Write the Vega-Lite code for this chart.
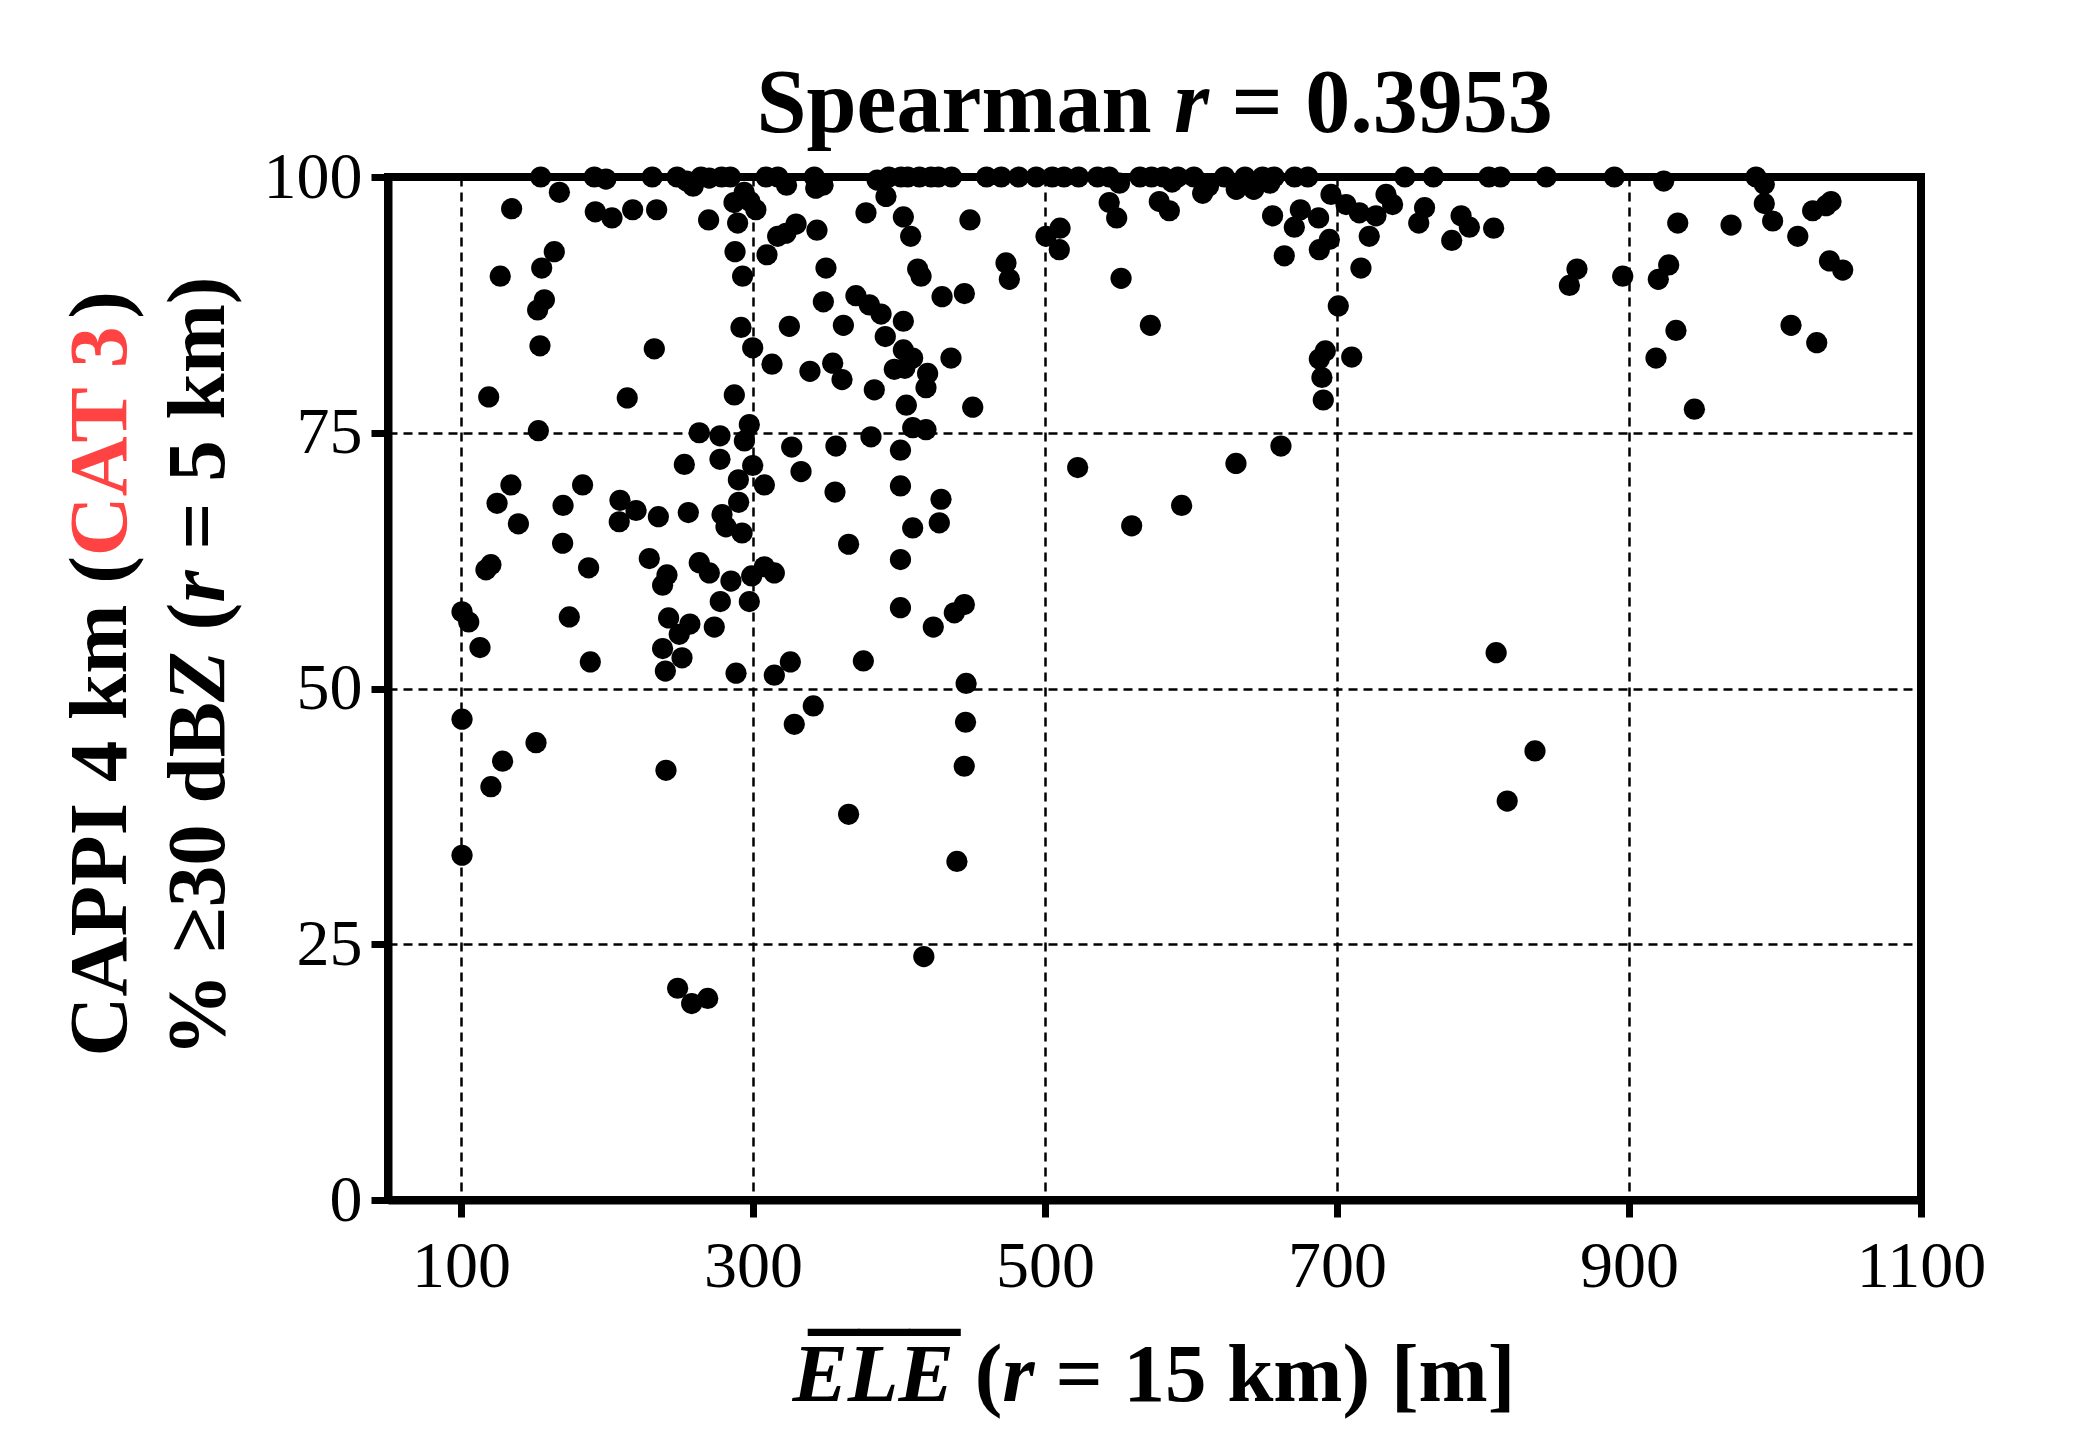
{
  "$schema": "https://vega.github.io/schema/vega-lite/v6.json",
  "width": 1533,
  "height": 1023,
  "autosize": {"type": "none"},
  "padding": {"left": 388, "top": 177, "right": 157, "bottom": 250},
  "background": "white",
  "config": {
    "view": {"stroke": "black", "strokeWidth": 8},
    "axis": {
      "titleFont": "Liberation Serif", "titleFontWeight": "bold", "titleColor": "black", "titleLimit": 3000,
      "titleAlign": "left", "titleBaseline": "alphabetic", "titleFontSize": 83, "titlePadding": 0,
      "labelFont": "Liberation Serif", "labelColor": "black", "labelFontSize": 66, "labelFlush": false,
      "labelOverlap": false, "labelBound": false,
      "domainColor": "black", "domainWidth": 8, "tickColor": "black", "tickWidth": 7, "tickSize": 17,
      "gridColor": "black", "gridWidth": 2.5, "gridDash": [9, 6]
    }
  },
  "data": {"values": [
    {"ele":154.6,"pct":100},{"ele":191.3,"pct":100},{"ele":199.3,"pct":99.8},{"ele":231,"pct":100},{"ele":248,"pct":100},{"ele":254.5,"pct":99.6},{"ele":259,"pct":99.1},{"ele":264.4,"pct":100},{"ele":270,"pct":99.9},{"ele":278.5,"pct":100},{"ele":284.5,"pct":100},{"ele":309,"pct":100},{"ele":317,"pct":100},{"ele":323,"pct":99.2},{"ele":342,"pct":100},{"ele":343,"pct":98.9},{"ele":348,"pct":99.2},{"ele":385,"pct":99.7},{"ele":393,"pct":100},{"ele":401.4,"pct":100},{"ele":406,"pct":100},{"ele":414,"pct":100},{"ele":422,"pct":100},{"ele":427,"pct":100},{"ele":436,"pct":100},{"ele":460,"pct":100},{"ele":470,"pct":100},{"ele":482,"pct":100},{"ele":494,"pct":100},{"ele":505,"pct":100},{"ele":513,"pct":100},{"ele":523,"pct":100},{"ele":536,"pct":100},{"ele":544,"pct":100},{"ele":551,"pct":99.4},{"ele":565,"pct":100},{"ele":573,"pct":100},{"ele":581,"pct":100},{"ele":587,"pct":99.5},{"ele":591,"pct":100},{"ele":602,"pct":100},{"ele":608,"pct":98.4},{"ele":612,"pct":99.1},{"ele":623,"pct":100},{"ele":631,"pct":98.8},{"ele":637,"pct":100},{"ele":643,"pct":98.8},{"ele":649,"pct":100},{"ele":654,"pct":99.4},{"ele":657,"pct":100},{"ele":671,"pct":100},{"ele":680,"pct":100},{"ele":746.5,"pct":100},{"ele":766,"pct":100},{"ele":804,"pct":100},{"ele":812,"pct":100},{"ele":843.3,"pct":100},{"ele":890,"pct":100},{"ele":923.8,"pct":99.6},{"ele":987,"pct":100},{"ele":992.7,"pct":99.3},
    {"ele":167.4,"pct":98.5},{"ele":134.7,"pct":96.9},{"ele":192,"pct":96.6},{"ele":203.4,"pct":96},{"ele":217.6,"pct":96.8},{"ele":234,"pct":96.8},{"ele":269.6,"pct":95.8},
    {"ele":294,"pct":98.5},{"ele":287,"pct":97.5},{"ele":298,"pct":97.6},{"ele":302,"pct":96.8},{"ele":289.5,"pct":95.5},
    {"ele":287.7,"pct":92.7},{"ele":292.9,"pct":90.3},{"ele":309.6,"pct":92.4},{"ele":316.9,"pct":94.2},{"ele":322.6,"pct":94.5},{"ele":329.5,"pct":95.4},{"ele":343.8,"pct":94.8},{"ele":377.4,"pct":96.5},{"ele":391.1,"pct":98.1},
    {"ele":403,"pct":96.1},{"ele":408,"pct":94.2},
    {"ele":163.9,"pct":92.7},{"ele":155.3,"pct":91.1},{"ele":126.9,"pct":90.3},{"ele":157.1,"pct":88},{"ele":152.5,"pct":87},{"ele":154.1,"pct":83.5},{"ele":232.4,"pct":83.2},
    {"ele":350,"pct":91.1},{"ele":348.2,"pct":87.8},{"ele":324.9,"pct":85.4},{"ele":291.8,"pct":85.3},{"ele":299.8,"pct":83.3},{"ele":313,"pct":81.7},
    {"ele":370.5,"pct":88.4},{"ele":379.7,"pct":87.5},{"ele":387.7,"pct":86.6},{"ele":361.9,"pct":85.5},{"ele":390.6,"pct":84.4},{"ele":403,"pct":85.9},
    {"ele":354.6,"pct":81.8},{"ele":361,"pct":80.2},{"ele":339,"pct":81},{"ele":383.1,"pct":79.2},{"ele":396.8,"pct":81.2},{"ele":403,"pct":83.1},{"ele":404,"pct":81.3},
    {"ele":119,"pct":78.5},{"ele":213.9,"pct":78.4},{"ele":287.2,"pct":78.7},
    {"ele":153,"pct":75.2},{"ele":263.2,"pct":75},{"ele":277.4,"pct":74.7},{"ele":297.5,"pct":75.8},{"ele":294.1,"pct":74.2},{"ele":326.5,"pct":73.6},{"ele":356.8,"pct":73.7},{"ele":380.8,"pct":74.6},{"ele":401,"pct":73.3},
    {"ele":253,"pct":71.9},{"ele":277.4,"pct":72.4},{"ele":299.8,"pct":71.8},{"ele":290,"pct":70.4},{"ele":307.8,"pct":69.9},{"ele":332.9,"pct":71.2},{"ele":356.2,"pct":69.2},{"ele":401,"pct":69.8},
    {"ele":134.2,"pct":69.9},{"ele":124.7,"pct":68.1},{"ele":139.3,"pct":66.1},{"ele":169.9,"pct":67.9},{"ele":183.3,"pct":69.9},{"ele":208.9,"pct":68.4},{"ele":219.9,"pct":67.4},{"ele":208.4,"pct":66.3},{"ele":235.2,"pct":66.8},{"ele":255.7,"pct":67.2},
    {"ele":290.2,"pct":68.2},{"ele":278.8,"pct":67},{"ele":281.5,"pct":65.8},{"ele":292.5,"pct":65.2},
    {"ele":169.6,"pct":64.2},{"ele":365.5,"pct":64.1},{"ele":401,"pct":62.6},{"ele":401,"pct":57.9},
    {"ele":120.5,"pct":62.1},{"ele":117.1,"pct":61.6},{"ele":187.4,"pct":61.8},{"ele":229,"pct":62.7},{"ele":241.1,"pct":61.1},{"ele":238.1,"pct":60.1},{"ele":263.2,"pct":62.3},{"ele":270.1,"pct":61.3},
    {"ele":284.9,"pct":60.5},{"ele":299.1,"pct":61},{"ele":307.8,"pct":61.9},{"ele":314.6,"pct":61.3},{"ele":277.6,"pct":58.5},{"ele":297.5,"pct":58.5},
    {"ele":100.7,"pct":57.5},{"ele":105.3,"pct":56.5},{"ele":174.2,"pct":57},{"ele":242.2,"pct":56.9},{"ele":256.8,"pct":56.3},{"ele":249.5,"pct":55.3},{"ele":273.5,"pct":56},
    {"ele":113,"pct":54},{"ele":188.6,"pct":52.6},{"ele":238.1,"pct":53.9},{"ele":251.4,"pct":53},{"ele":240,"pct":51.7},{"ele":288.4,"pct":51.5},{"ele":314.6,"pct":51.3},{"ele":325.6,"pct":52.6},{"ele":375.6,"pct":52.7},
    {"ele":448.6,"pct":95.8},{"ele":412.8,"pct":91},{"ele":415.1,"pct":90.3},{"ele":429.5,"pct":88.3},{"ele":444.8,"pct":88.6},{"ele":473.3,"pct":91.6},{"ele":475.6,"pct":90},
    {"ele":409.4,"pct":82.3},{"ele":419.6,"pct":80.8},{"ele":418.5,"pct":79.4},{"ele":435.6,"pct":82.3},{"ele":405,"pct":77.7},{"ele":450.5,"pct":77.5},{"ele":409.4,"pct":75.5},{"ele":418.5,"pct":75.3},
    {"ele":428.8,"pct":68.5},{"ele":409.4,"pct":65.7},{"ele":427.6,"pct":66.2},{"ele":444.8,"pct":58.2},{"ele":437.9,"pct":57.4},{"ele":423.5,"pct":56},{"ele":446,"pct":50.5},
    {"ele":544,"pct":97.5},{"ele":549.1,"pct":96},{"ele":578.3,"pct":97.6},{"ele":585.2,"pct":96.7},{"ele":510.3,"pct":95},{"ele":500.7,"pct":94.2},{"ele":509.8,"pct":92.9},{"ele":552.1,"pct":90.1},{"ele":572.2,"pct":85.5},
    {"ele":655.9,"pct":96.2},{"ele":674.9,"pct":96.8},{"ele":670.8,"pct":95.1},{"ele":687.4,"pct":96},{"ele":695.9,"pct":98.3},{"ele":706.2,"pct":97.3},{"ele":715.3,"pct":96.5},{"ele":726.7,"pct":96.2},{"ele":722.1,"pct":94.2},{"ele":694.8,"pct":93.9},{"ele":687.9,"pct":92.9},{"ele":663.9,"pct":92.3},{"ele":716.4,"pct":91.1},{"ele":700.9,"pct":87.4},{"ele":692,"pct":83},{"ele":687.9,"pct":82.2},{"ele":689.7,"pct":80.4},{"ele":690.6,"pct":78.2},{"ele":710.1,"pct":82.4},
    {"ele":733.6,"pct":98.3},{"ele":738.1,"pct":97.3},{"ele":760,"pct":97},{"ele":756,"pct":95.5},
    {"ele":661.6,"pct":73.7},{"ele":630.8,"pct":72},{"ele":522.4,"pct":71.6},{"ele":593.6,"pct":67.9},{"ele":559.4,"pct":65.9},
    {"ele":992.7,"pct":97.4},{"ele":998.4,"pct":95.7},{"ele":1025.8,"pct":96.7},{"ele":1035,"pct":97.2},{"ele":1038.4,"pct":97.6},{"ele":1015.6,"pct":94.2},{"ele":1037.3,"pct":91.8},{"ele":1046.4,"pct":90.9},{"ele":1011,"pct":85.5},{"ele":1028.6,"pct":83.8},
    {"ele":785,"pct":96.2},{"ele":790.7,"pct":95.1},{"ele":807.3,"pct":95},{"ele":778.6,"pct":93.8},{"ele":864.4,"pct":91},{"ele":859.2,"pct":89.4},{"ele":895.7,"pct":90.3},{"ele":927.2,"pct":91.4},{"ele":920.1,"pct":90},{"ele":933.4,"pct":95.5},{"ele":969.9,"pct":95.3},{"ele":932.2,"pct":85},{"ele":918.5,"pct":82.3},{"ele":944.8,"pct":77.3},{"ele":809,"pct":53.5},
    {"ele":100.7,"pct":47},{"ele":128.5,"pct":42.9},{"ele":120.5,"pct":40.4},{"ele":151.4,"pct":44.7},{"ele":240.4,"pct":42},{"ele":100.7,"pct":33.7},{"ele":328.3,"pct":46.5},{"ele":341.3,"pct":48.3},{"ele":365.5,"pct":37.7},{"ele":248.4,"pct":20.7},{"ele":258,"pct":19.2},{"ele":269,"pct":19.7},
    {"ele":445.6,"pct":46.7},{"ele":444.7,"pct":42.4},{"ele":439.7,"pct":33.1},{"ele":417,"pct":23.8},{"ele":835.6,"pct":43.9},{"ele":816.6,"pct":39}
  ]},
  "layer": [
    {
      "mark": {"type": "circle", "size": 450, "color": "black", "opacity": 1},
      "encoding": {
        "x": {"field": "ele", "type": "quantitative", "scale": {"domain": [50, 1100], "nice": false, "zero": false},
          "axis": {"orient": "bottom", "title": null, "values": [100, 300, 500, 700, 900, 1100], "format": "d", "grid": true, "labelPadding": 17}},
        "y": {"field": "pct", "type": "quantitative", "scale": {"domain": [0, 100], "nice": false, "zero": false},
          "axis": {"orient": "left", "title": null, "values": [0, 25, 50, 75, 100], "format": "d", "grid": true, "labelPadding": 9}}
      }
    },
    {
      "mark": {"type": "point", "opacity": 0},
      "encoding": {
        "x": {"field": "ele", "type": "quantitative", "scale": {"domain": [50, 1100], "nice": false, "zero": false},
          "axis": {"orient": "top", "title": "Spearman", "labels": false, "ticks": false, "domain": false, "grid": false, "titleX": 368, "titleY": -46, "titleFontSize": 90, "titleFontStyle": "normal", "titleAngle": 0}},
        "y": {"field": "pct", "type": "quantitative", "scale": {"domain": [0, 100], "nice": false, "zero": false},
          "axis": {"orient": "left", "title": "CAPPI 4 km (", "labels": false, "ticks": false, "domain": false, "grid": false, "titleX": -263, "titleY": 879, "titleAngle": 270, "titleFontStyle": "normal"}}
      }
    },
    {
      "mark": {"type": "point", "opacity": 0},
      "encoding": {
        "x": {"field": "ele", "type": "quantitative", "scale": {"domain": [50, 1100], "nice": false, "zero": false},
          "axis": {"orient": "top", "title": "r", "labels": false, "ticks": false, "domain": false, "grid": false, "titleX": 785.5, "titleY": -46, "titleFontSize": 90, "titleFontStyle": "italic", "titleAngle": 0}},
        "y": {"field": "pct", "type": "quantitative", "scale": {"domain": [0, 100], "nice": false, "zero": false},
          "axis": {"orient": "left", "title": "CAT 3", "labels": false, "ticks": false, "domain": false, "grid": false, "titleX": -263, "titleY": 378.8, "titleAngle": 270, "titleFontStyle": "normal", "titleColor": "#ff4242"}}
      }
    },
    {
      "mark": {"type": "point", "opacity": 0},
      "encoding": {
        "x": {"field": "ele", "type": "quantitative", "scale": {"domain": [50, 1100], "nice": false, "zero": false},
          "axis": {"orient": "top", "title": "= 0.3953", "labels": false, "ticks": false, "domain": false, "grid": false, "titleX": 843, "titleY": -46, "titleFontSize": 90, "titleFontStyle": "normal", "titleAngle": 0}},
        "y": {"field": "pct", "type": "quantitative", "scale": {"domain": [0, 100], "nice": false, "zero": false},
          "axis": {"orient": "left", "title": ")", "labels": false, "ticks": false, "domain": false, "grid": false, "titleX": -263, "titleY": 141.3, "titleAngle": 270, "titleFontStyle": "normal"}}
      }
    },
    {
      "mark": {"type": "point", "opacity": 0},
      "encoding": {
        "x": {"field": "ele", "type": "quantitative", "scale": {"domain": [50, 1100], "nice": false, "zero": false},
          "axis": {"orient": "bottom", "title": "ELE", "labels": false, "ticks": false, "domain": false, "grid": false, "titleX": 404, "titleY": 200, "titleFontStyle": "italic", "titleAngle": 0}},
        "y": {"field": "pct", "type": "quantitative", "scale": {"domain": [0, 100], "nice": false, "zero": false},
          "axis": {"orient": "left", "title": "% ≥30 dB", "labels": false, "ticks": false, "domain": false, "grid": false, "titleX": -165, "titleY": 879, "titleAngle": 270, "titleFontStyle": "normal"}}
      }
    },
    {
      "mark": {"type": "point", "opacity": 0},
      "encoding": {
        "x": {"field": "ele", "type": "quantitative", "scale": {"domain": [50, 1100], "nice": false, "zero": false},
          "axis": {"orient": "bottom", "title": "___", "labels": false, "ticks": false, "domain": false, "grid": false, "titleX": 420, "titleY": 121.5, "titleFontSize": 101, "titleFontStyle": "normal", "titleAngle": 0}},
        "y": {"field": "pct", "type": "quantitative", "scale": {"domain": [0, 100], "nice": false, "zero": false},
          "axis": {"orient": "left", "title": "Z", "labels": false, "ticks": false, "domain": false, "grid": false, "titleX": -165, "titleY": 524.4, "titleAngle": 270, "titleFontStyle": "italic"}}
      }
    },
    {
      "mark": {"type": "point", "opacity": 0},
      "encoding": {
        "x": {"field": "ele", "type": "quantitative", "scale": {"domain": [50, 1100], "nice": false, "zero": false},
          "axis": {"orient": "bottom", "title": "(", "labels": false, "ticks": false, "domain": false, "grid": false, "titleX": 586.2, "titleY": 200, "titleFontStyle": "normal", "titleAngle": 0}},
        "y": {"field": "pct", "type": "quantitative", "scale": {"domain": [0, 100], "nice": false, "zero": false},
          "axis": {"orient": "left", "title": "(", "labels": false, "ticks": false, "domain": false, "grid": false, "titleX": -165, "titleY": 453, "titleAngle": 270, "titleFontStyle": "normal"}}
      }
    },
    {
      "mark": {"type": "point", "opacity": 0},
      "encoding": {
        "x": {"field": "ele", "type": "quantitative", "scale": {"domain": [50, 1100], "nice": false, "zero": false},
          "axis": {"orient": "bottom", "title": "r", "labels": false, "ticks": false, "domain": false, "grid": false, "titleX": 613.8, "titleY": 200, "titleFontStyle": "italic", "titleAngle": 0}},
        "y": {"field": "pct", "type": "quantitative", "scale": {"domain": [0, 100], "nice": false, "zero": false},
          "axis": {"orient": "left", "title": "r", "labels": false, "ticks": false, "domain": false, "grid": false, "titleX": -165, "titleY": 425.3, "titleAngle": 270, "titleFontStyle": "italic"}}
      }
    },
    {
      "mark": {"type": "point", "opacity": 0},
      "encoding": {
        "x": {"field": "ele", "type": "quantitative", "scale": {"domain": [50, 1100], "nice": false, "zero": false},
          "axis": {"orient": "bottom", "title": "= 15 km) [m]", "labels": false, "ticks": false, "domain": false, "grid": false, "titleX": 666.9, "titleY": 200, "titleFontStyle": "normal", "titleAngle": 0}},
        "y": {"field": "pct", "type": "quantitative", "scale": {"domain": [0, 100], "nice": false, "zero": false},
          "axis": {"orient": "left", "title": "= 5 km)", "labels": false, "ticks": false, "domain": false, "grid": false, "titleX": -165, "titleY": 372.3, "titleAngle": 270, "titleFontStyle": "normal"}}
      }
    }
  ],
  "resolve": {"axis": {"x": "independent", "y": "independent"}}
}
